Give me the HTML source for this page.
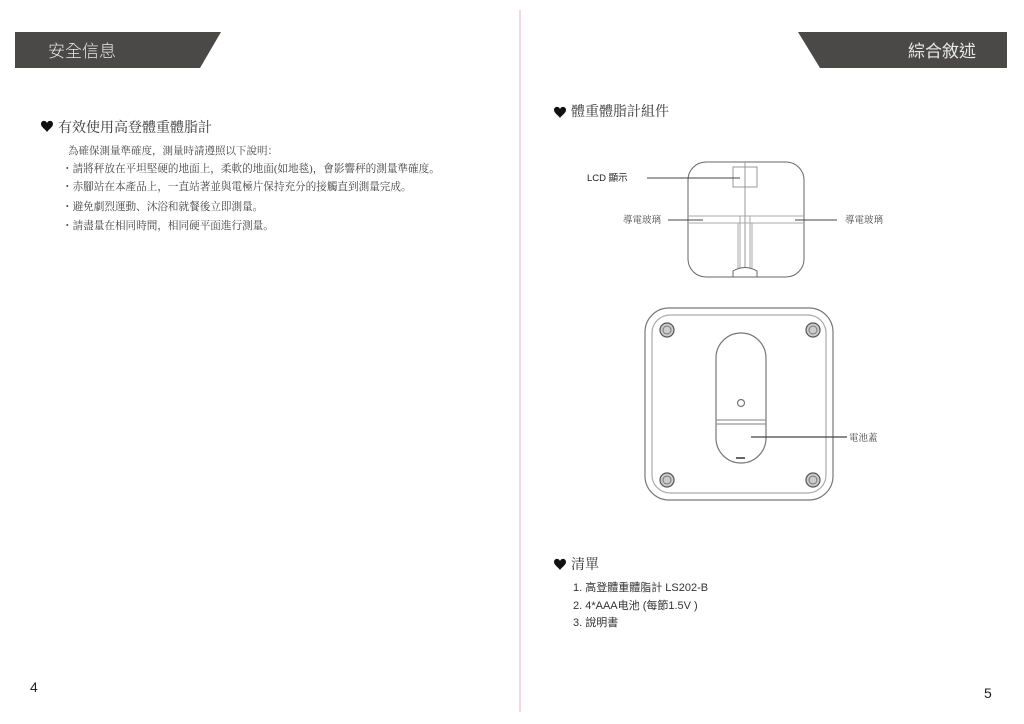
<!DOCTYPE html>
<html><head><meta charset="utf-8"><style>
html,body{margin:0;padding:0;background:#fff;}
svg{display:block;}
text{font-family:"Liberation Serif","Noto Serif CJK SC","Noto Sans CJK TC",serif;}
.s{font-family:"Liberation Sans","Noto Sans CJK TC",sans-serif;}
</style></head><body>
<svg width="1024" height="724" viewBox="0 0 1024 724" xmlns="http://www.w3.org/2000/svg">
<defs><path id="h" d="M0,-3 C-1,-6 -6,-6 -6,-2 C-6,1 -2,3 0,6 C2,3 6,1 6,-2 C6,-6 1,-6 0,-3 Z" fill="#111"/></defs>
<line x1="520" y1="10" x2="520" y2="712" stroke="#f0c8d0" stroke-width="1.5"/>
<polygon points="15,32 221,32 200,68 15,68" fill="#4a4948"/>
<text x="48" y="57" font-size="17" fill="#e8e8e8" class="s" font-weight="300">安全信息</text>
<polygon points="798,32 1007,32 1007,68 820,68" fill="#4a4948"/>
<text x="908" y="57" font-size="17" fill="#e8e8e8" class="s">綜合敘述</text>

<use href="#h" x="47" y="126"/>
<use href="#h" x="560" y="112"/>
<use href="#h" x="560" y="564"/>
<g fill="#222">
<text x="58" y="132" font-size="14" fill="#333">有效使用高登體重體脂計</text>
<text x="68" y="154" font-size="10.5" fill="#444">為確保測量準確度，測量時請遵照以下說明：</text>
<text x="62" y="172" font-size="10.6" fill="#444">・請將秤放在平坦堅硬的地面上，柔軟的地面(如地毯)，會影響秤的測量準確度。</text>
<text x="62" y="190" font-size="10.6" fill="#444">・赤腳站在本產品上，一直站著並與電極片保持充分的接觸直到測量完成。</text>
<text x="62" y="210" font-size="10.6" fill="#444">・避免劇烈運動、沐浴和就餐後立即測量。</text>
<text x="62" y="229" font-size="10.6" fill="#444">・請盡量在相同時間，相同硬平面進行測量。</text>

<text x="571" y="116" font-size="14" fill="#333">體重體脂計組件</text>
<text x="571" y="569" font-size="14" fill="#333">清單</text>
<text x="573" y="591" font-size="11" fill="#333" class="s">1. 高登體重體脂計 LS202-B</text>
<text x="573" y="609" font-size="11" fill="#333" class="s">2. 4*AAA电池 (每節1.5V )</text>
<text x="573" y="626" font-size="11" fill="#333" class="s">3. 說明書</text>
<text x="30" y="692" font-size="14" class="s">4</text>
<text x="984" y="698" font-size="14" class="s">5</text>
</g>

<g stroke="#666" fill="none" stroke-width="1">
<rect x="688" y="162" width="116" height="115" rx="18"/>
<rect x="733" y="167" width="24" height="20" stroke="#999"/>
<line x1="745" y1="162" x2="745" y2="267" stroke="#999"/>
<line x1="688" y1="216" x2="804" y2="216" stroke="#aaa"/>
<line x1="688" y1="223" x2="804" y2="223" stroke="#aaa"/>
<polyline points="688,216 740,216 740,268" stroke="#aaa"/>
<polyline points="688,223 738,223 738,268" stroke="#aaa"/>
<polyline points="804,216 750,216 750,268" stroke="#aaa"/>
<polyline points="804,223 752,223 752,268" stroke="#aaa"/>
<path d="M733,277 L733,271 Q745,264 757,271 L757,277" stroke="#666"/>
<line x1="647" y1="178" x2="740" y2="178" stroke="#444"/>
<line x1="668" y1="220" x2="703" y2="220" stroke="#444"/>
<line x1="795" y1="220" x2="837" y2="220" stroke="#444"/>
</g>
<text x="587" y="181" font-size="9.5" fill="#222" class="s">LCD 顯示</text>
<text x="623" y="223" font-size="9.5" fill="#444">導電玻璃</text>
<text x="845" y="223" font-size="9.5" fill="#444">導電玻璃</text>

<g fill="none" stroke="#777" stroke-width="1.2">
<rect x="645" y="308" width="188" height="192" rx="24"/>
<rect x="652" y="315" width="174" height="178" rx="18" stroke="#aaa"/>
<rect x="716" y="333" width="50" height="130" rx="25"/>
<line x1="716" y1="420" x2="766" y2="420" stroke="#999"/>
<line x1="716" y1="424" x2="766" y2="424" stroke="#999"/>
<circle cx="741" cy="403" r="3.5"/>
<line x1="736" y1="458" x2="745" y2="458" stroke="#333" stroke-width="1.5"/>
<line x1="751" y1="437" x2="847" y2="437" stroke="#444"/>
</g>
<g fill="#ccc" stroke="#555" stroke-width="1.2">
<circle cx="667" cy="330" r="7"/><circle cx="813" cy="330" r="7"/>
<circle cx="667" cy="480" r="7"/><circle cx="813" cy="480" r="7"/>
</g>
<g fill="none" stroke="#777">
<circle cx="667" cy="330" r="4"/><circle cx="813" cy="330" r="4"/>
<circle cx="667" cy="480" r="4"/><circle cx="813" cy="480" r="4"/>
</g>
<text x="849" y="441" font-size="9.5" fill="#444">電池蓋</text>
</svg>
</body></html>
